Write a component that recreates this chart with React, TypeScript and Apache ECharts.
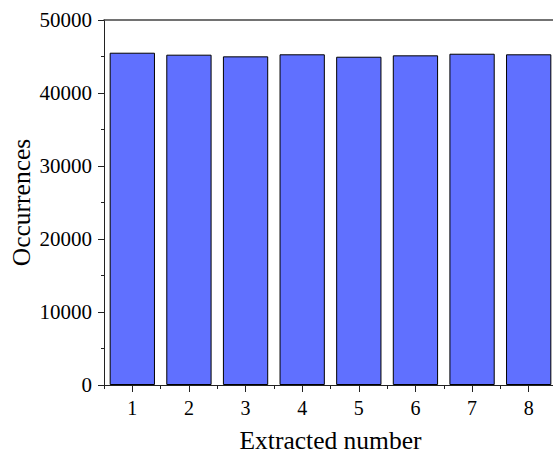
import React, { useEffect, useRef } from "react";
import * as echarts from "echarts";

const categories = ["1", "2", "3", "4", "5", "6", "7", "8"];
const occurrences = [45520, 45250, 45020, 45300, 44970, 45160, 45380, 45300];
const yTicks = [0, 10000, 20000, 30000, 40000, 50000];

const FONT = "'Liberation Serif', serif";
const AXIS = "#222";

export default function App() {
  const ref = useRef<HTMLDivElement>(null);
  useEffect(() => {
    if (!ref.current) return;
    const chart = echarts.init(ref.current, null, { renderer: "svg" });
    chart.setOption({
      animation: false,
      grid: {
        left: 104,
        width: 453,
        top: 20,
        height: 365,
        containLabel: false,
        outerBoundsMode: "none",
      },
      xAxis: [
        {
          type: "category",
          data: categories,
          position: "bottom",
          name: "Extracted number",
          nameLocation: "middle",
          nameGap: 42,
          nameTextStyle: { fontFamily: FONT, fontSize: 25.5, color: "#000" },
          axisLine: { show: true, lineStyle: { color: AXIS, width: 1 } },
          axisTick: { show: true, alignWithLabel: true, inside: false, length: 7, lineStyle: { color: AXIS } },
          axisLabel: { fontFamily: FONT, fontSize: 20, color: "#000", margin: 13 },
          splitLine: { show: false },
        },
        {
          type: "category",
          data: categories,
          position: "bottom",
          axisLine: { show: false },
          axisTick: { show: true, inside: false, length: 4, lineStyle: { color: AXIS } },
          axisLabel: { show: false },
          splitLine: { show: false },
        },
        {
          type: "category",
          data: categories,
          position: "top",
          axisLine: { show: true, lineStyle: { color: "#444", width: 1.5 } },
          axisTick: { show: false },
          axisLabel: { show: false },
          splitLine: { show: false },
        },
      ],
      yAxis: {
        type: "value",
        min: yTicks[0],
        max: yTicks[yTicks.length - 1],
        interval: 10000,
        name: "Occurrences",
        nameLocation: "middle",
        nameGap: 70,
        nameMoveOverlap: false,
        nameTextStyle: { fontFamily: FONT, fontSize: 25.5, color: "#000" },
        axisLine: { show: true, lineStyle: { color: AXIS, width: 1 } },
        axisTick: { show: true, inside: false, length: 6, lineStyle: { color: AXIS } },
        minorTick: { show: true, splitNumber: 2, length: 3, lineStyle: { color: AXIS } },
        axisLabel: {
          fontFamily: FONT,
          fontSize: 21,
          color: "#000",
          margin: 12,
          formatter: (v: number) => String(v),
        },
        splitLine: { show: false },
      },
      series: [
        {
          type: "bar",
          xAxisIndex: 0,
          data: occurrences,
          barCategoryGap: "20%",
          itemStyle: { color: "#6070FF", borderColor: "#000", borderWidth: 1 },
        },
      ],
    });
    return () => chart.dispose();
  }, []);
  return <div ref={ref} style={{ width: 553, height: 454, position: "absolute", left: 0, top: 0 }} />;
}
